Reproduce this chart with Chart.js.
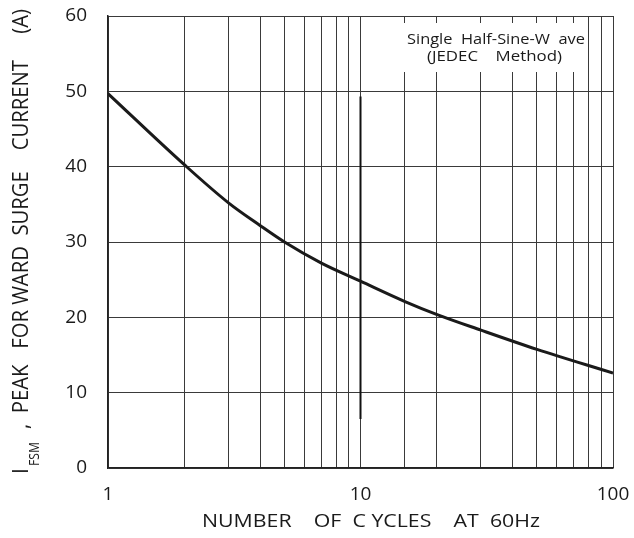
<!DOCTYPE html>
<html>
<head>
<meta charset="utf-8">
<script src="https://cdn.jsdelivr.net/npm/chart.js@4"></script>
<style>
  html, body { margin: 0; padding: 0; background: #fff; }
  #wrap { width: 634px; height: 538px; position: relative; }
</style>
</head>
<body>
<div id="wrap"><canvas id="surgeChart" width="634" height="538"></canvas></div>
<script>
// curva de corrente de surto (IFSM) x numero de ciclos
const ciclos = [1, 2, 3, 4, 5, 7, 10, 15, 20, 30, 50, 100];
const correnteA = [49.7, 40.3, 35.2, 32.2, 30.0, 27.2, 24.8, 22.1, 20.4, 18.3, 15.75, 12.6];
const rotulosX = [1, 10, 100];
const ticksY = [0, 10, 20, 30, 40, 50, 60];
// traço vertical escuro em 10 ciclos
const marcaX = [10, 10];
const marcaY = [6.5, 49.3];
const notaLinhas = ['Single  Half-Sine-W  ave', '(JEDEC    Method)'];
const tituloX = 'NUMBER    OF  C YCLES    AT  60Hz';
const tituloY = ',  PEAK   FOR WARD  SURGE    CURRENT     (A)';

const fonte = '"Open Sans", "Noto Sans", sans-serif';
const corTexto = '#1a1a1a';
const corGrade = '#3a3a3a';

// escreve o texto esticado/comprimido entre x0 e x1 (fonte do original e mais estreita)
function textoAjustado(ctx, texto, x0, x1, y, tamanho) {
    ctx.save();
    ctx.font = tamanho + 'px ' + fonte;
    const w = ctx.measureText(texto).width;
    ctx.translate(x0, y);
    ctx.scale((x1 - x0) / w, 1);
    ctx.textAlign = 'left';
    ctx.fillText(texto, 0, 0);
    ctx.restore();
}

const notaPlugin = {
    id: 'notaPlugin',
    beforeDatasetsDraw(chart) {
        const ctx = chart.ctx;
        ctx.save();
        ctx.fillStyle = '#fff';
        ctx.fillRect(400, 23, 183, 49);
        ctx.fillStyle = corTexto;
        ctx.textBaseline = 'alphabetic';
        textoAjustado(ctx, notaLinhas[0], 407, 585, 44, 14);
        textoAjustado(ctx, notaLinhas[1], 427, 562, 61, 14);
        ctx.restore();
    },
    afterDraw(chart) {
        const ctx = chart.ctx;
        ctx.save();
        ctx.fillStyle = corTexto;
        ctx.textBaseline = 'alphabetic';
        // titulo do eixo X
        textoAjustado(ctx, tituloX, 202, 540, 527, 19);
        // titulo do eixo Y com subscrito
        ctx.translate(28, 0);
        ctx.rotate(-Math.PI / 2);
        ctx.font = '21px ' + fonte;
        ctx.fillText('I', -474, 0);
        textoAjustado(ctx, 'FSM', -466, -442, 11, 15);
        textoAjustado(ctx, tituloY, -429, -9, 0, 21);
        ctx.restore();
    }
};

new Chart(document.getElementById('surgeChart'), {
    type: 'line',
    data: {
        datasets: [{
            data: ciclos.map((c, i) => ({ x: c, y: correnteA[i] })),
            borderColor: corTexto,
            borderWidth: 3,
            pointRadius: 0,
            cubicInterpolationMode: 'monotone'
        }, {
            data: marcaX.map((c, i) => ({ x: c, y: marcaY[i] })),
            borderColor: '#111',
            borderWidth: 2,
            pointRadius: 0
        }]
    },
    options: {
        responsive: false,
        animation: false,
        layout: { padding: { top: 16, right: 21, left: 0, bottom: 0 } },
        plugins: { legend: { display: false }, tooltip: { enabled: false } },
        scales: {
            x: {
                type: 'logarithmic',
                min: 1,
                max: 100,
                afterFit: s => { s.height = 70; s.paddingLeft = 0; s.paddingRight = 0; },
                grid: { color: corGrade, lineWidth: 1, drawTicks: false },
                border: { color: '#222', width: 1.5 },
                ticks: {
                    autoSkip: false,
                    maxRotation: 0,
                    padding: 15,
                    color: corTexto,
                    font: { family: fonte, size: 19 },
                    callback: v => rotulosX.includes(v) ? String(v) : ''
                }
            },
            y: {
                min: 0,
                max: 60,
                afterFit: s => { s.width = 108; s.paddingTop = 0; s.paddingBottom = 0; },
                afterBuildTicks: s => { s.ticks = ticksY.map(v => ({ value: v })); },
                grid: { color: corGrade, lineWidth: 1, drawTicks: false },
                border: { color: '#222', width: 1.5 },
                ticks: {
                    padding: 21,
                    color: corTexto,
                    font: { family: fonte, size: 19 }
                }
            }
        }
    },
    plugins: [notaPlugin]
});
</script>
</body>
</html>
